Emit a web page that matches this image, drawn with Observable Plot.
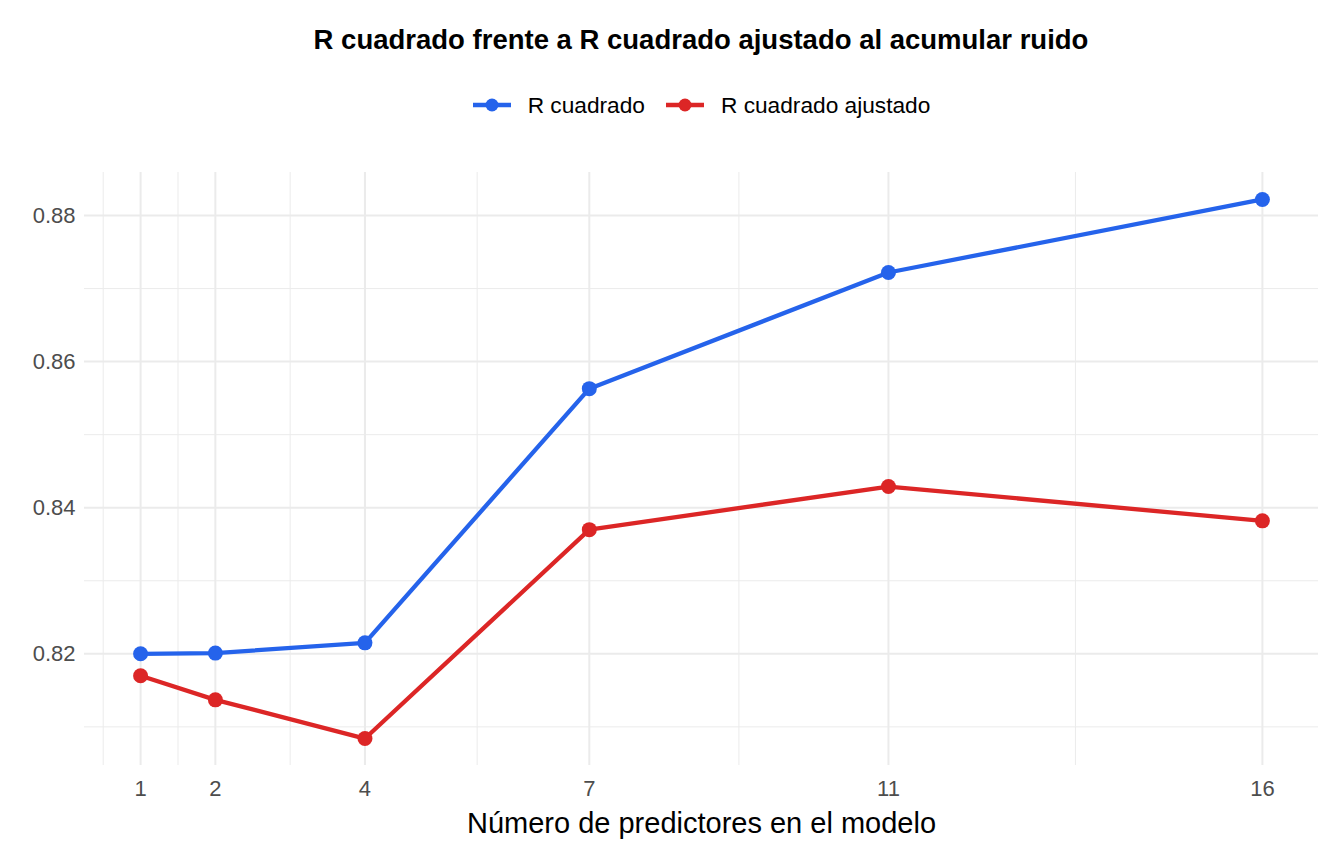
<!DOCTYPE html>
<html><head><meta charset="utf-8">
<script src="https://cdn.jsdelivr.net/npm/d3@7"></script>
<script src="https://cdn.jsdelivr.net/npm/@observablehq/plot@0.6"></script>
<style>
body{margin:0;background:#fff;font-family:"Liberation Sans",Arial,sans-serif;}
#wrap{width:1344px;}
#title{height:80px;display:flex;align-items:center;justify-content:center;font-weight:bold;font-size:27.5px;color:#000;padding-left:58px;box-sizing:border-box;}
#legend{height:50px;display:flex;align-items:center;justify-content:center;font-size:22.7px;color:#000;padding-left:58px;box-sizing:border-box;}
.item{display:flex;align-items:center;margin:0 10px;}
.item svg{margin-right:16px;}
</style></head>
<body><div id="wrap"><div id="title"></div><div id="legend"></div><div id="chart"></div></div>
<script>
const title = "R cuadrado frente a R cuadrado ajustado al acumular ruido";
const xLabel = "Número de predictores en el modelo";
const predictors = [1, 2, 4, 7, 11, 16];
const rSquared = [0.8200, 0.8201, 0.8215, 0.8563, 0.8722, 0.8822];
const rSquaredAdj = [0.8170, 0.8137, 0.8084, 0.8370, 0.8429, 0.8382];
const seriesNames = ["R cuadrado", "R cuadrado ajustado"];
const seriesColors = ["#2563EB", "#DC2626"];
const xTicks = [1, 2, 4, 7, 11, 16];
const xMinor = [0.5, 1.5, 3, 5.5, 9, 13.5];
const yTicks = [0.82, 0.84, 0.86, 0.88];
const yMinor = [0.81, 0.83, 0.85, 0.87];

document.getElementById("title").textContent = title;
const leg = document.getElementById("legend");
seriesNames.forEach((n, i) => {
  const d = document.createElement("div"); d.className = "item";
  d.innerHTML = `<svg width="40" height="16"><line x1="1" x2="39" y1="8" y2="8" stroke="${seriesColors[i]}" stroke-width="4.5"/><circle cx="20" cy="8" r="6.5" fill="${seriesColors[i]}"/></svg><span>${n}</span>`;
  leg.appendChild(d);
});

const data = [];
predictors.forEach((p, i) => {
  data.push({x: p, y: rSquared[i], s: seriesNames[0]});
  data.push({x: p, y: rSquaredAdj[i], s: seriesNames[1]});
});
const yMin = Math.min(...rSquared, ...rSquaredAdj), yMax = Math.max(...rSquared, ...rSquaredAdj);
const yPad = (yMax - yMin) * 0.05;
const xPad = (d3.max(predictors) - d3.min(predictors)) * 0.05;

const chart = Plot.plot({
  width: 1344, height: 734,
  marginLeft: 84, marginRight: 26, marginTop: 42, marginBottom: 99,
  style: {fontFamily: "Liberation Sans, Arial, sans-serif", background: "#fff"},
  x: {domain: [d3.min(predictors) - xPad, d3.max(predictors) + xPad], ticks: xTicks},
  y: {domain: [yMin - yPad, yMax + yPad], ticks: yTicks},
  color: {domain: seriesNames, range: seriesColors},
  marks: [
    Plot.ruleX(xMinor, {stroke: "#EBEBEB", strokeWidth: 1}),
    Plot.ruleY(yMinor, {stroke: "#EBEBEB", strokeWidth: 1}),
    Plot.ruleX(xTicks, {stroke: "#EBEBEB", strokeWidth: 2}),
    Plot.ruleY(yTicks, {stroke: "#EBEBEB", strokeWidth: 2}),
    Plot.axisX({ticks: xTicks, tickSize: 0, tickPadding: 15, fontSize: 22, color: "#4D4D4D", label: null, tickFormat: d => String(d)}),
    Plot.axisY({ticks: yTicks, tickSize: 0, tickPadding: 9, fontSize: 22, color: "#4D4D4D", label: null, tickFormat: d3.format(".2f")}),
    Plot.line(data, {x: "x", y: "y", stroke: "s", strokeWidth: 4.3, z: "s"}),
    Plot.dot(data, {x: "x", y: "y", fill: "s", r: 7.5}),
    Plot.text([xLabel], {text: d => d, frameAnchor: "bottom", dy: 67, fontSize: 29, fill: "#000"})
  ]
});
document.getElementById("chart").appendChild(chart);
</script></body></html>
